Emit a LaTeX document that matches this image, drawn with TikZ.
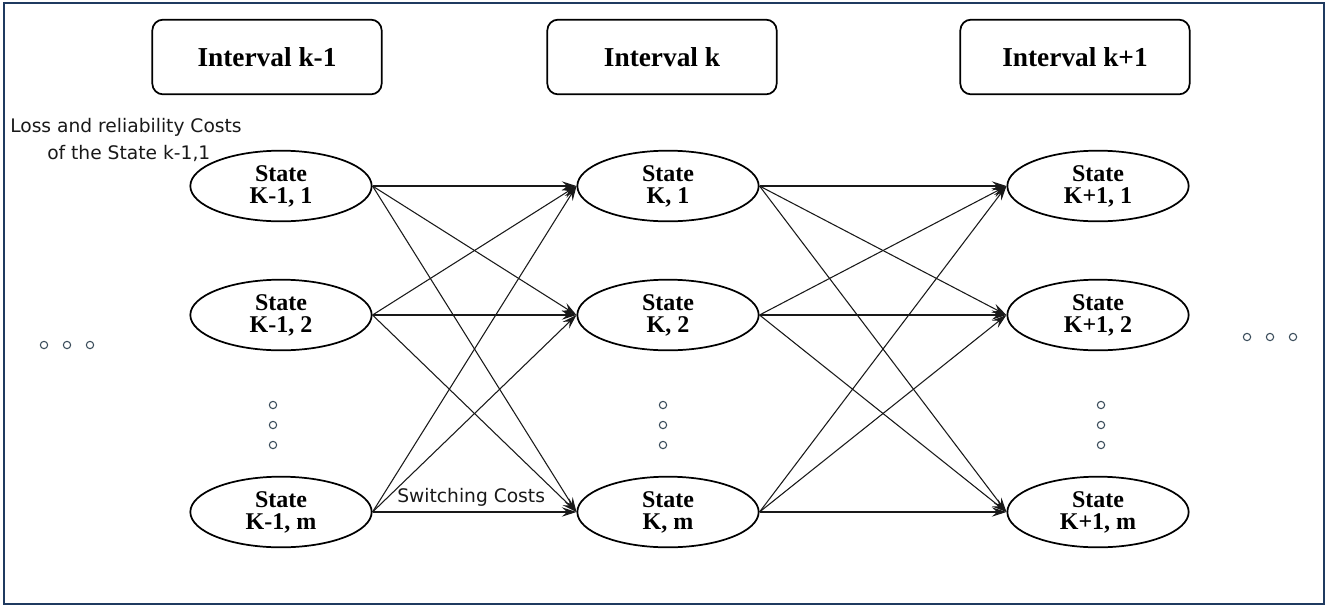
\documentclass[tikz,border=0pt]{standalone}
\usepackage{fontspec}
\setmainfont{Liberation Serif}
\newfontfamily\sansf{DejaVu Sans}
\usetikzlibrary{shapes.geometric,arrows.meta}
\definecolor{framec}{HTML}{1F3A60}
\definecolor{dotc}{HTML}{3A4C5A}
\begin{document}
\begin{tikzpicture}[x=0.75pt,y=-0.75pt,
  intbox/.style={draw,line width=1.3pt,rounded corners=8pt,minimum width=172pt,minimum height=56pt,inner sep=0pt,font=\fontsize{20.5}{22}\selectfont\bfseries},
  statenode/.style={draw,ellipse,line width=1.3pt,minimum width=136pt,minimum height=53pt,inner sep=0pt,align=center,font=\fontsize{18}{16.5}\selectfont\bfseries},
  conn/.style={line width=0.8pt,draw=black!90,-{Stealth[length=11pt,width=7pt,inset=4pt]}},
  sdot/.style={circle,draw=dotc,line width=0.8pt,minimum size=5.5pt,inner sep=0pt},
  lbl/.style={font=\sansf\fontsize{14}{19}\selectfont,text=black!90,inner sep=0pt}]
\useasboundingbox (0,0) rectangle (1339,608);
\draw[framec,line width=1.5pt] (4,3) rectangle (1324,604);
% interval boxes
\node[intbox] (i1) at (267,57) {Interval k-1};
\node[intbox] (i2) at (662,57) {Interval k};
\node[intbox] (i3) at (1075,57) {Interval k+1};
% states
\node[statenode] (a1) at (281,186) {State\\K-1, 1};
\node[statenode] (a2) at (281,315) {State\\K-1, 2};
\node[statenode] (am) at (281,512) {State\\K-1, m};
\node[statenode] (b1) at (668,186) {State\\K, 1};
\node[statenode] (b2) at (668,315) {State\\K, 2};
\node[statenode] (bm) at (668,512) {State\\K, m};
\node[statenode] (c1) at (1098,186) {State\\K+1, 1};
\node[statenode] (c2) at (1098,315) {State\\K+1, 2};
\node[statenode] (cm) at (1098,512) {State\\K+1, m};
% connectors
\foreach \s in {a1,a2,am}{\foreach \t in {b1,b2,bm}{\draw[conn] (\s.east) -- (\t.west);}}
\foreach \s in {b1,b2,bm}{\foreach \t in {c1,c2,cm}{\draw[conn] (\s.east) -- (\t.west);}}
% labels
\node[lbl,anchor=west] (l1) at (10,127) {Loss and reliability Costs};
\node[lbl,anchor=west] (l2) at (47,153) {of the State k-1,1};
\node[lbl,anchor=west] (sw) at (397,497) {Switching Costs};
% dots
\foreach \x/\n in {44/1,67/2,90/3}{\node[sdot] (hl\n) at (\x,345) {};}
\foreach \x/\n in {1247/1,1270/2,1293/3}{\node[sdot] (hr\n) at (\x,337) {};}
\foreach \y/\n in {405/1,425/2,445/3}{
  \node[sdot] (va\n) at (273,\y) {};
  \node[sdot] (vb\n) at (663,\y) {};
  \node[sdot] (vc\n) at (1101,\y) {};}
\end{tikzpicture}
\end{document}
